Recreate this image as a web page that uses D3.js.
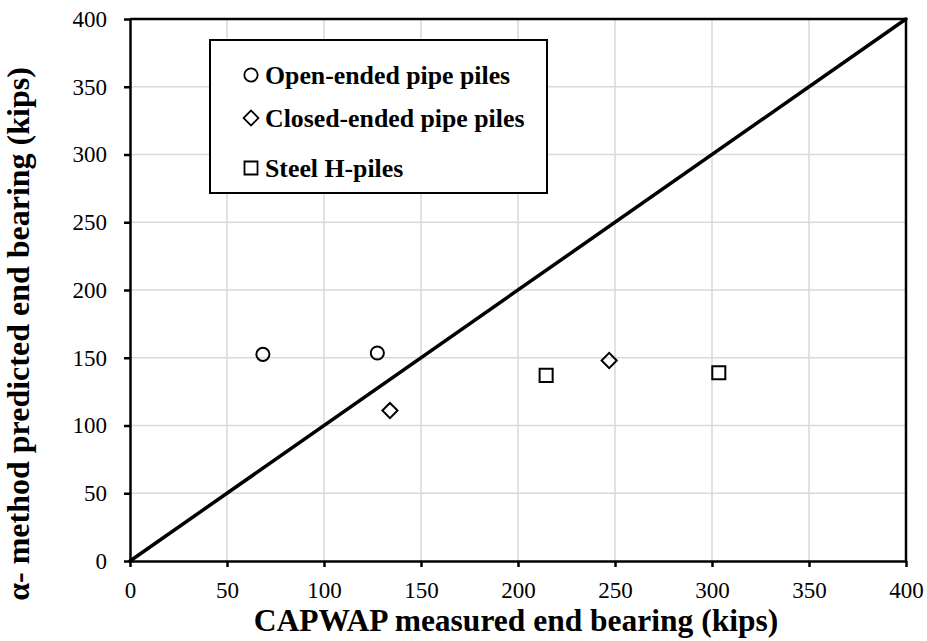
<!DOCTYPE html>
<html><head><meta charset="utf-8">
<script src="https://cdn.jsdelivr.net/npm/d3@7"></script>
<style>body{margin:0;background:#fff}svg{display:block}
svg text{font-family:"Liberation Serif","Times New Roman",Times,serif;}
</style>
</head><body>
<svg id="c" width="927" height="641"></svg>
<script>
const xTicks = [0,50,100,150,200,250,300,350,400];
const yTicks = [0,50,100,150,200,250,300,350,400];
const openX = [68.5, 127.5];
const openY = [152.5, 153.5];
const closedX = [134, 247];
const closedY = [111, 148];
const hX = [214.5, 303.5];
const hY = [137, 139];
const lineX = [0, 400];
const lineY = [0, 400];
const legendLabels = ["Open-ended pipe piles","Closed-ended pipe piles","Steel H-piles"];
const legendSymbols = ["circle","diamond","square"];

const svg = d3.select("#c");
const L=130,R=906,T=19,B=561;
const x = d3.scaleLinear().domain([0,400]).range([L,R]);
const y = d3.scaleLinear().domain([0,400]).range([B,T]);

// grid
svg.append("g").selectAll("line").data(xTicks.slice(1,-1)).join("line")
  .attr("x1",d=>x(d)).attr("x2",d=>x(d)).attr("y1",T).attr("y2",B)
  .attr("stroke","#d9d9d9").attr("stroke-width",1.5);
svg.append("g").selectAll("line").data(yTicks.slice(1,-1)).join("line")
  .attr("y1",d=>y(d)).attr("y2",d=>y(d)).attr("x1",L).attr("x2",R)
  .attr("stroke","#d9d9d9").attr("stroke-width",1.5);

// axes
const xa = svg.append("g").attr("transform",`translate(0,${B})`)
  .call(d3.axisBottom(x).tickValues(xTicks).tickSize(6).tickSizeOuter(0).tickPadding(15));
const ya = svg.append("g").attr("transform",`translate(${L},0)`)
  .call(d3.axisLeft(y).tickValues(yTicks).tickSize(6).tickSizeOuter(0).tickPadding(17));
[xa,ya].forEach(a=>{
  a.attr("font-family",null);
  a.select(".domain").attr("stroke","#000").attr("stroke-width",2.5);
  a.selectAll(".tick line").attr("stroke","#000").attr("stroke-width",2.5);
  a.selectAll(".tick text").style("font-size","23px").attr("fill","#000");
});
// top/right border
svg.append("line").attr("x1",L).attr("x2",R).attr("y1",T).attr("y2",T).attr("stroke","#000").attr("stroke-width",2.5);
svg.append("line").attr("x1",R).attr("x2",R).attr("y1",T).attr("y2",B).attr("stroke","#000").attr("stroke-width",2.5);

// 1:1 line
svg.append("line").attr("x1",x(lineX[0])).attr("y1",y(lineY[0])).attr("x2",x(lineX[1])).attr("y2",y(lineY[1]))
  .attr("stroke","#000").attr("stroke-width",3.5).attr("stroke-linecap","round");

// markers
const sym = {circle:d3.symbolCircle, diamond:d3.symbolSquare, square:d3.symbolSquare};
const rot = {circle:0, diamond:45, square:0};
const sz = {circle:135, diamond:115, square:170};
function drawPts(xs,ys,type){
  svg.append("g").selectAll("path").data(xs.map((v,i)=>[v,ys[i]])).join("path")
    .attr("transform",d=>`translate(${x(d[0])},${y(d[1])}) rotate(${rot[type]})`)
    .attr("d",d3.symbol(sym[type],sz[type])())
    .attr("fill","none").attr("stroke","#000").attr("stroke-width",2);
}
drawPts(openX,openY,"circle");
drawPts(closedX,closedY,"diamond");
drawPts(hX,hY,"square");

// legend
const lg = svg.append("g");
lg.append("rect").attr("x",210).attr("y",40).attr("width",337).attr("height",153)
  .attr("fill","#fff").attr("stroke","#000").attr("stroke-width",2);
const ly = [75,118,168];
const lsz = {circle:140, diamond:110, square:170};
legendLabels.forEach((t,i)=>{
  const s = legendSymbols[i];
  lg.append("path").attr("transform",`translate(251,${ly[i]}) rotate(${rot[s]})`)
    .attr("d",d3.symbol(sym[s],lsz[s])())
    .attr("fill","none").attr("stroke","#000").attr("stroke-width",1.8);
  lg.append("text").attr("x",265).attr("y",ly[i]).attr("dy","0.34em")
    .style("font-weight","bold").style("font-size","25.8px").text(t);
});

// titles
svg.append("text").attr("x",(L+R)/2-2).attr("y",631).attr("text-anchor","middle")
  .style("font-weight","bold").style("font-size","31.5px")
  .text("CAPWAP measured end bearing (kips)");
svg.append("text").attr("transform",`translate(29,334) rotate(-90)`).attr("text-anchor","middle")
  .style("font-weight","bold").style("font-size","32px")
  .text("α- method predicted end bearing (kips)");
</script>
</body></html>
